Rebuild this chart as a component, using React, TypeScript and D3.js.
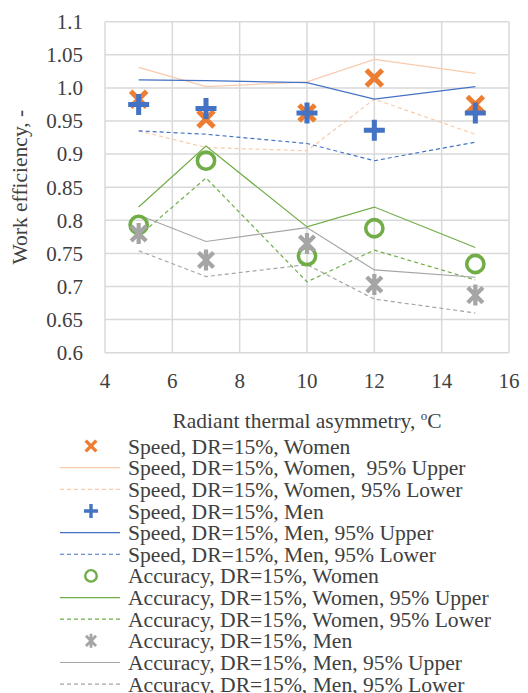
import React from "react";
import * as d3 from "d3";

const xs = [5, 7, 10, 12, 15];
const speedWomen = [0.983, 0.953, 0.962, 1.015, 0.975];
const speedWomenUpper = [1.031, 1.002, 1.009, 1.043, 1.022];
const speedWomenLower = [0.935, 0.91, 0.905, 0.983, 0.93];
const speedMen = [0.975, 0.969, 0.962, 0.936, 0.962];
const speedMenUpper = [1.012, 1.011, 1.008, 0.983, 1.002];
const speedMenLower = [0.935, 0.93, 0.916, 0.89, 0.918];
const accWomen = [0.793, 0.89, 0.746, 0.788, 0.734];
const accWomenUpper = [0.82, 0.912, 0.79, 0.82, 0.759];
const accWomenLower = [0.776, 0.864, 0.707, 0.755, 0.71];
const accMen = [0.78, 0.74, 0.765, 0.703, 0.687];
const accMenUpper = [0.808, 0.768, 0.789, 0.725, 0.714];
const accMenLower = [0.754, 0.715, 0.733, 0.681, 0.66];

const xTicks = [4, 6, 8, 10, 12, 14, 16];
const yTicks = [0.6, 0.65, 0.7, 0.75, 0.8, 0.85, 0.9, 0.95, 1.0, 1.05, 1.1];
const yTickLabels = ["0.6", "0.65", "0.7", "0.75", "0.8", "0.85", "0.9", "0.95", "1.0", "1.05", "1.1"];

type Item = { name: string; kind: "marker" | "line"; marker?: string; color: string; dash?: string; data: number[] };

const items: Item[] = [
  { name: "Speed, DR=15%, Women", kind: "marker", marker: "x", color: "#ED7D31", data: speedWomen },
  { name: "Speed, DR=15%, Women,  95% Upper", kind: "line", color: "#F8CBAD", data: speedWomenUpper },
  { name: "Speed, DR=15%, Women, 95% Lower", kind: "line", color: "#F8CBAD", dash: "4,3", data: speedWomenLower },
  { name: "Speed, DR=15%, Men", kind: "marker", marker: "plus", color: "#4472C4", data: speedMen },
  { name: "Speed, DR=15%, Men, 95% Upper", kind: "line", color: "#4472C4", data: speedMenUpper },
  { name: "Speed, DR=15%, Men, 95% Lower", kind: "line", color: "#4472C4", dash: "4,3", data: speedMenLower },
  { name: "Accuracy, DR=15%, Women", kind: "marker", marker: "circle", color: "#70AD47", data: accWomen },
  { name: "Accuracy, DR=15%, Women, 95% Upper", kind: "line", color: "#70AD47", data: accWomenUpper },
  { name: "Accuracy, DR=15%, Women, 95% Lower", kind: "line", color: "#70AD47", dash: "4,3", data: accWomenLower },
  { name: "Accuracy, DR=15%, Men", kind: "marker", marker: "star", color: "#A5A5A5", data: accMen },
  { name: "Accuracy, DR=15%, Men, 95% Upper", kind: "line", color: "#A5A5A5", data: accMenUpper },
  { name: "Accuracy, DR=15%, Men, 95% Lower", kind: "line", color: "#A5A5A5", dash: "4,3", data: accMenLower },
];

function Marker({ type, x, y, color, s }: { type: string; x: number; y: number; color: string; s: number }) {
  const h = s / 2;
  const sw = s * 0.24;
  if (type === "x") {
    const a = h - sw / 2;
    return (
      <path d={`M${x - a},${y - a}L${x + a},${y + a}M${x - a},${y + a}L${x + a},${y - a}`} stroke={color} strokeWidth={sw} fill="none" />
    );
  }
  if (type === "plus")
    return (
      <path d={`M${x - h},${y}L${x + h},${y}M${x},${y - h}L${x},${y + h}`} stroke={color} strokeWidth={sw} fill="none" />
    );
  if (type === "circle") return <circle cx={x} cy={y} r={h - s * 0.09} stroke={color} strokeWidth={s * 0.17} fill="none" />;
  const a = h * 0.72;
  return (
    <path
      d={`M${x - a},${y - a}L${x + a},${y + a}M${x - a},${y + a}L${x + a},${y - a}M${x},${y - h}L${x},${y + h}`}
      stroke={color}
      strokeWidth={s * 0.2}
      fill="none"
    />
  );
}

export default function App() {
  const W = 528, H = 693;
  const L = 105, R = 509, T = 21.7, B = 352.7;
  const x = d3.scaleLinear().domain([4, 16]).range([L, R]);
  const y = d3.scaleLinear().domain([0.6, 1.1]).range([B, T]);
  const line = d3.line<number>().x((_, i) => x(xs[i])).y((d) => y(d));
  const ts: React.CSSProperties = { fontFamily: '"Liberation Serif"' };
  const textColor = "#404040";
  const grid = "#D9D9D9";
  const lines = items.filter((it) => it.kind === "line");
  const markers = items.filter((it) => it.kind === "marker");
  const legTop = 446, legStep = 21.65;
  return (
    <svg width={W} height={H} style={{ position: "absolute", left: 0, top: 0, background: "#fff" }}>
      {xTicks.map((t) => (
        <line key={"gx" + t} x1={x(t)} x2={x(t)} y1={T} y2={B} stroke={grid} strokeWidth={1.5} />
      ))}
      {yTicks.map((t) => (
        <line key={"gy" + t} x1={L} x2={R} y1={y(t)} y2={y(t)} stroke={grid} strokeWidth={1.5} />
      ))}
      {yTicks.map((t, i) => (
        <text key={"ty" + t} x={83} y={y(t)} dy="0.35em" textAnchor="end" fontSize={21} fill={textColor} style={ts}>
          {yTickLabels[i]}
        </text>
      ))}
      {xTicks.map((t) => (
        <text key={"tx" + t} x={x(t)} y={388} textAnchor="middle" fontSize={21} fill={textColor} style={ts}>
          {t}
        </text>
      ))}
      <text x={(L + R) / 2} y={428} textAnchor="middle" fontSize={21.5} fill={textColor} style={ts}>
        Radiant thermal asymmetry, <tspan fontSize={13} dy={-8}>o</tspan>
        <tspan dy={8}>C</tspan>
      </text>
      <text transform={`translate(27,${(T + B) / 2}) rotate(-90)`} textAnchor="middle" fontSize={21.5} fill={textColor} style={ts}>
        Work efficiency, -
      </text>
      {lines.map((it) => (
        <path key={it.name} d={line(it.data) || ""} stroke={it.color} strokeWidth={1.2} strokeDasharray={it.dash} fill="none" />
      ))}
      {markers.map((it) =>
        it.data.map((v, i) => <Marker key={it.name + i} type={it.marker!} x={x(xs[i])} y={y(v)} color={it.color} s={21} />)
      )}
      {items.map((it, i) => {
        const cy = legTop + i * legStep;
        return (
          <g key={"leg" + i}>
            {it.kind === "line" ? (
              <line x1={60} x2={120} y1={cy} y2={cy} stroke={it.color} strokeWidth={1.2} strokeDasharray={it.dash} />
            ) : (
              <Marker type={it.marker!} x={91} y={cy} color={it.color} s={14} />
            )}
            <text x={128} y={cy} dy="0.35em" fontSize={21.6} fill={textColor} style={{ ...ts, whiteSpace: "pre" }}>
              {it.name}
            </text>
          </g>
        );
      })}
    </svg>
  );
}
